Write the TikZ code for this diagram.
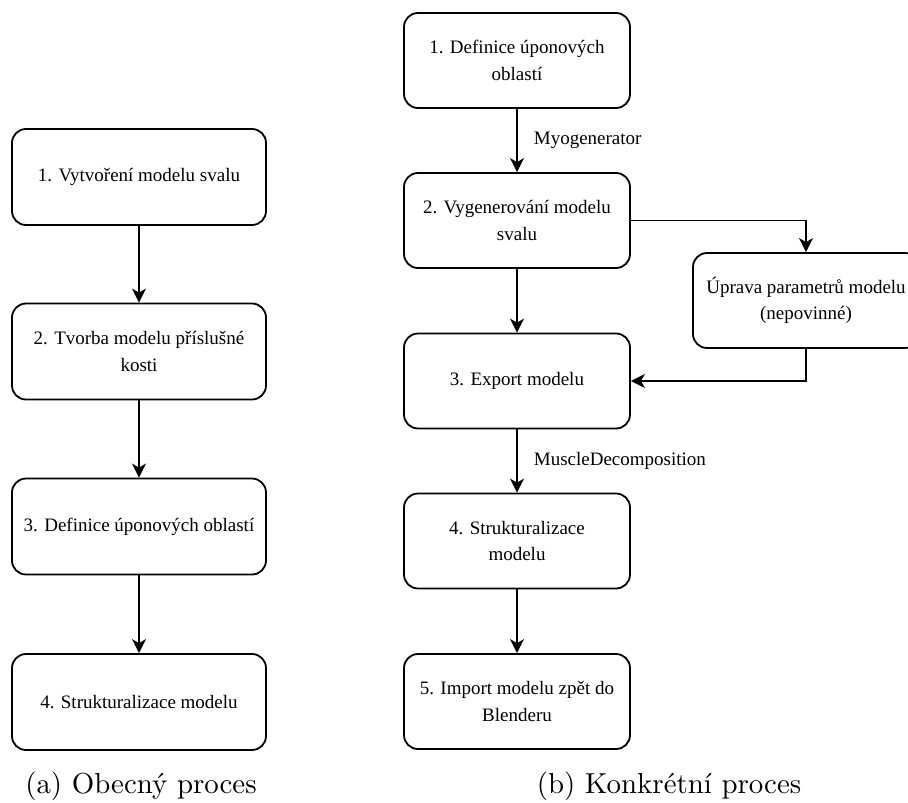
\documentclass[tikz,border=0pt]{standalone}
\usepackage{fontspec}
\newfontfamily\boxfont{Liberation Serif}
\usetikzlibrary{arrows.meta}
\begin{document}
\begin{tikzpicture}[x=1pt,y=-1pt,
  box/.style={draw, line width=1.8pt, rounded corners=14pt, align=center, inner sep=0pt,
    font=\boxfont\fontsize{19}{26.5}\selectfont},
  lbox/.style={box, minimum width=254pt, minimum height=96pt},
  rbox/.style={box, minimum width=226pt, minimum height=95pt},
  conn/.style={line width=1.8pt, -{Stealth[length=14pt,width=14pt,inset=4pt]}},
  lab/.style={font=\boxfont\fontsize{19}{26.5}\selectfont, anchor=west, inner sep=0pt},
  captext/.style={inner sep=0pt, anchor=base}
]
\useasboundingbox (0,0) rectangle (908,803);
% left column
\node[lbox] (a1) at (139,177) {1. Vytvoření modelu svalu};
\node[lbox] (a2) at (139,351.5) {2. Tvorba modelu příslušné\\kosti};
\node[lbox] (a3) at (139,526.5) {3. Definice úponových oblastí};
\node[lbox] (a4) at (139,702) {4. Strukturalizace modelu};
\draw[conn] (a1) -- (a2);
\draw[conn] (a2) -- (a3);
\draw[conn] (a3) -- (a4);
% right column
\node[rbox] (b1) at (517,60.5) {1. Definice úponových\\oblastí};
\node[rbox] (b2) at (517,220.5) {2. Vygenerování modelu\\svalu};
\node[rbox] (b3) at (517,381) {3. Export modelu};
\node[rbox] (b4) at (517,541) {4. Strukturalizace\\modelu};
\node[rbox] (b5) at (517,701.5) {5. Import modelu zpět do\\Blenderu};
\node[rbox] (s) at (806,300.5) {Úprava parametrů modelu\\(nepovinné)};
\draw[conn] (b1) -- node[lab, xshift=16pt] (l1) {Myogenerator} (b2);
\draw[conn] (b2) -- (b3);
\draw[conn] (b3) -- node[lab, xshift=16pt] (l2) {MuscleDecomposition} (b4);
\draw[conn] (b4) -- (b5);
\draw[conn] (b2.east) -| (s.north);
\draw[conn] (s.south) |- (b3.east);
% captions
\node[captext] (ca) at (141,793) {\scalebox{2.89}{\fontsize{10}{12}\selectfont (a) Obecný proces}};
\node[captext] (cb) at (669,793) {\scalebox{2.89}{\fontsize{10}{12}\selectfont (b) Konkrétní proces}};
\end{tikzpicture}
\end{document}
